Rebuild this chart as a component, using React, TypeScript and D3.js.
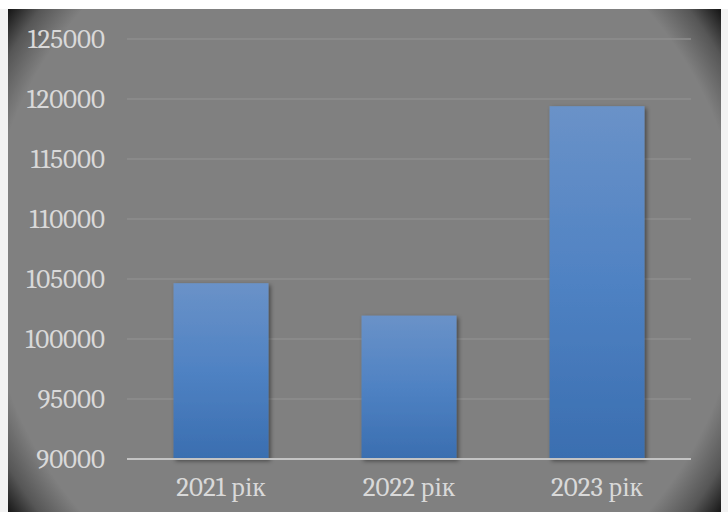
import * as d3 from 'd3';

const years = ['2021 рік', '2022 рік', '2023 рік'];
const values = [104650, 101950, 119400];
const yTicks = [90000, 95000, 100000, 105000, 110000, 115000, 120000, 125000];

const W = 728;
const H = 512;
const frame = { x: 8, y: 9, w: 713, h: 505 };
const plot = { left: 127, right: 691, top: 39, bottom: 459 };
const font = "Cambria, 'Liberation Serif', serif";
const textColor = '#d9d9d9';

export default function App() {
  const x = d3
    .scaleBand<string>()
    .domain(years)
    .range([plot.left, plot.right])
    .paddingInner(0.495)
    .paddingOuter(0.2475);
  const y = d3.scaleLinear().domain([90000, 125000]).range([plot.bottom, plot.top]);

  const cx = frame.x + frame.w / 2;
  const cy = frame.y + frame.h / 2;
  const r = Math.hypot(frame.w / 2, frame.h / 2);

  return (
    <svg
      width={W}
      height={H}
      style={{ position: 'absolute', left: 0, top: 0, display: 'block', background: '#f2f2f2' }}
    >
      <defs>
        <radialGradient id="vig" gradientUnits="userSpaceOnUse" cx={cx} cy={cy} r={r}>
          <stop offset="0" stopColor="#808080" />
          <stop offset="0.865" stopColor="#808080" />
          <stop offset="0.94" stopColor="#565656" />
          <stop offset="1" stopColor="#141414" />
        </radialGradient>
        <linearGradient id="bar" x1="0" y1="0" x2="0" y2="1">
          <stop offset="0" stopColor="#6a92c8" />
          <stop offset="0.5" stopColor="#4f82c3" />
          <stop offset="1" stopColor="#3a6eb0" />
        </linearGradient>
        <filter id="shadow" x="-20%" y="-20%" width="140%" height="140%">
          <feDropShadow dx="2" dy="2" stdDeviation="2" floodColor="#000" floodOpacity="0.45" />
        </filter>
      </defs>
      <rect x={0} y={0} width={W} height={frame.y} fill="#ffffff" />
      <rect x={frame.x} y={frame.y} width={frame.w} height={frame.h} fill="url(#vig)" />

      {yTicks.slice(1).map((t) => (
        <line
          key={t}
          x1={plot.left}
          x2={plot.right}
          y1={y(t)}
          y2={y(t)}
          stroke="#8e8e8e"
          strokeWidth={1.5}
        />
      ))}

      {years.map((c, i) => (
        <rect
          key={c}
          x={x(c)}
          y={y(values[i])}
          width={x.bandwidth()}
          height={y(90000) - y(values[i])}
          fill="url(#bar)"
          filter="url(#shadow)"
        />
      ))}

      <line
        x1={plot.left}
        x2={plot.right}
        y1={y(90000)}
        y2={y(90000)}
        stroke="#c4c4c4"
        strokeWidth={2}
      />

      {yTicks.map((t) => (
        <text
          key={t}
          x={105}
          y={y(t)}
          dy="0.35em"
          textAnchor="end"
          fontFamily={font}
          fontSize={27}
          fill={textColor}
        >
          {t}
        </text>
      ))}

      {years.map((c) => (
        <text
          key={c}
          x={(x(c) ?? 0) + x.bandwidth() / 2}
          y={496}
          textAnchor="middle"
          fontFamily={font}
          fontSize={27}
          fill={textColor}
        >
          {c}
        </text>
      ))}
    </svg>
  );
}
